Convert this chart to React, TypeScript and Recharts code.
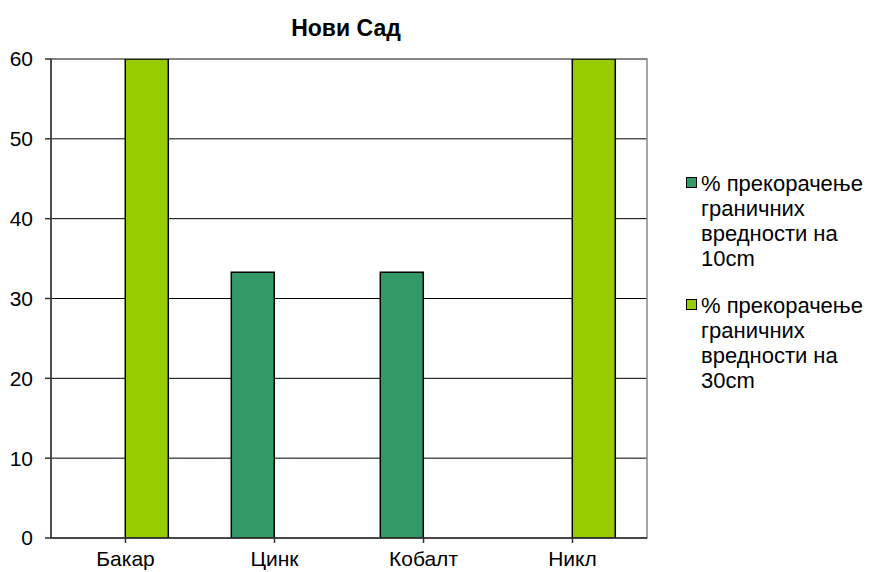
import { BarChart, Bar, XAxis, YAxis, CartesianGrid, ReferenceArea } from 'recharts'

const categories = ['Бакар', 'Цинк', 'Кобалт', 'Никл']
const exceed10cm = [0, 33.3, 33.3, 0]
const exceed30cm = [60, 0, 0, 60]
const yTicks = [0, 10, 20, 30, 40, 50, 60]
const seriesNames = [
  '% прекорачење граничних вредности на 10cm',
  '% прекорачење граничних вредности на 30cm',
]
const legendLines = [
  ['% прекорачење', 'граничних', 'вредности на', '10cm'],
  ['% прекорачење', 'граничних', 'вредности на', '30cm'],
]
const seriesColors = ['#339966', '#99CC00']

const data = categories.map((name, i) => ({
  name,
  s10: exceed10cm[i],
  s30: exceed30cm[i],
}))

const font = "'Liberation Sans', Arial, sans-serif"

function LegendItem({ color, lines }: { color: string; lines: string[] }) {
  return (
    <div style={{ display: 'flex', alignItems: 'flex-start', marginBottom: 22 }}>
      <div style={{
        width: 11, height: 11, boxSizing: 'border-box', background: color,
        border: '1.5px solid #000', marginTop: 6, marginRight: 4, flexShrink: 0,
      }} />
      <div style={{ fontSize: 22, lineHeight: '25px', color: '#000' }}>
        {lines.map((l, i) => <div key={i}>{l}</div>)}
      </div>
    </div>
  )
}

export default function App() {
  return (
    <div style={{ position: 'absolute', left: 0, top: 0, width: 873, height: 572, background: '#fff', fontFamily: font, overflow: 'hidden' }}>
      <div style={{
        position: 'absolute', left: 0, width: 692, top: 15, textAlign: 'center',
        fontSize: 23, fontWeight: 'bold', color: '#000', lineHeight: 'normal',
      }}>
        Нови Сад
      </div>
      <BarChart
        width={873}
        height={572}
        data={data}
        margin={{ top: 59, right: 226, bottom: 0, left: 0 }}
        barCategoryGap="21%"
        barGap={0}
      >
        <ReferenceArea y1={0} y2={60} fill="none" stroke="#888" strokeWidth={1.5} ifOverflow="visible" />
        <CartesianGrid vertical={false} stroke="#000" strokeWidth={1} />
        <XAxis
          dataKey="name"
          height={34}
          stroke="#333"
          strokeWidth={1.5}
          tickLine={{ stroke: '#333' }}
          tickSize={5}
          tick={{ fill: '#000', fontSize: 21, fontFamily: font }}
          tickMargin={8}
        />
        <YAxis
          width={51}
          domain={[0, 60]}
          ticks={yTicks}
          allowDataOverflow
          stroke="#333"
          strokeWidth={1.5}
          tickSize={6}
          tick={{ fill: '#000', fontSize: 21, fontFamily: font }}
          tickMargin={12}
        />
        <Bar dataKey="s10" name={seriesNames[0]} fill={seriesColors[0]} stroke="#000" strokeWidth={1.5} isAnimationActive={false} />
        <Bar dataKey="s30" name={seriesNames[1]} fill={seriesColors[1]} stroke="#000" strokeWidth={1.5} isAnimationActive={false} />
      </BarChart>
      <div style={{ position: 'absolute', left: 686, top: 171, width: 187 }}>
        <LegendItem color={seriesColors[0]} lines={legendLines[0]} />
        <LegendItem color={seriesColors[1]} lines={legendLines[1]} />
      </div>
    </div>
  )
}
